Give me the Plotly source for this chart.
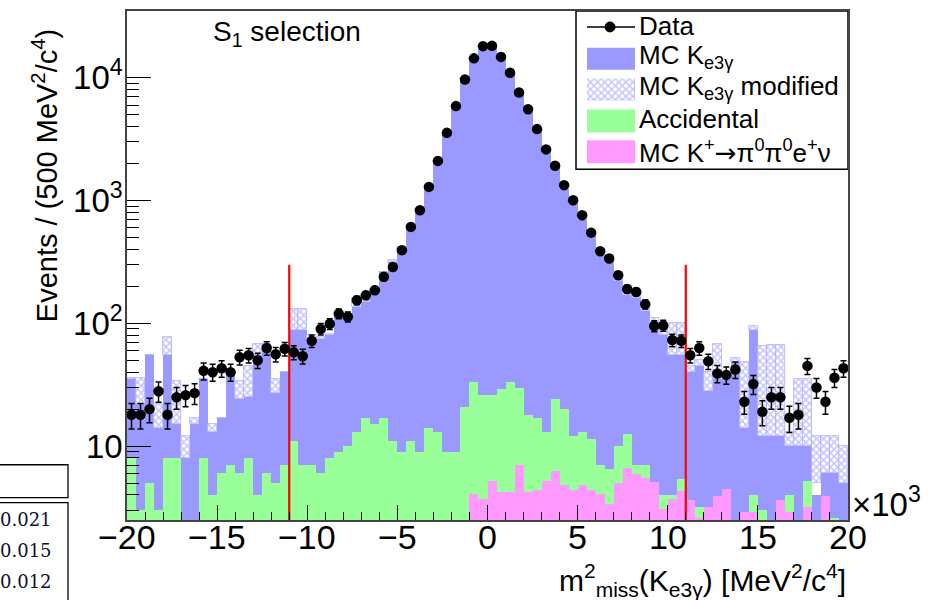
import numpy as np
import plotly.graph_objects as go

# ---------------- data (80 bins of 0.5 x10^3 MeV^2/c^4 from -20 to 20) ----------------
bin_lo, bin_hi, n_bins = -20.0, 20.0, 80

data_counts = [18, 18, 20, 28, 18, 25, 26, 27, 41, 40,
               43, 40, 53, 55, 50, 63, 56, 62, 58, 54,
               72, 90, 99, 120, 113, 154, 169, 186, 239, 288,
               394, 610, 834, 1292, 2104, 3560, 5880, 9690, 14400, 18100,
               18200, 14800, 11000, 7590, 5550, 3820, 2610, 1918, 1335, 1006,
               759, 548, 386, 337, 246, 190, 180, 143, 95, 96,
               73, 72, 55, 63, 49, 39, 38, 42, 23, 32,
               19, 25, 25, 17, 18, 45, 30, 23, 36, 43]

# stacked levels as drawn (cumulative): Ke3g on top of accidental on top of K->pi0pi0enu
ke3g_stack_top = [35, 22, 55, 14, 55, 15, 8, 15, 35, 13,
                  17, 42, 24, 25, 55, 68, 27, 40, 88, 88,
                  75, 75, 80, 113, 113, 136, 150, 175, 262, 316,
                  400, 620, 850, 1300, 2100, 3500, 5800, 9700, 14300, 18000,
                  18000, 14600, 10800, 7400, 5300, 3600, 2450, 1800, 1250, 950,
                  700, 510, 360, 310, 220, 170, 160, 125, 90, 80,
                  55, 55, 40, 45, 28, 35, 38, 48, 14, 88,
                  12, 12, 12, 10, 10, 10, 4, 6, 6, 5]

accidental_stack_top = [8, 3, 5, 3, 8, 8, 1, 1, 8, 4,
                        6, 7, 6, 8, 4, 6, 5, 7, 11, 7,
                        7, 6, 8, 9, 10, 13, 17, 15, 17, 11,
                        9, 11, 9, 14, 13, 9, 9, 21, 33, 26,
                        26, 29, 33, 30, 18, 17, 13, 24, 20, 12,
                        13, 11.5, 7, 6.5, 10, 12.6, 7, 7, 5, 4,
                        4, 5.4, 3.6, 3.2, 3.2, 3.9, 4.5, 1, 2.9, 4,
                        3, 1, 3.6, 4, 1, 5.2, 1, 3.9, 2.6, 1]

k2pi0_stack_top = [0] * 38 + [4.1, 3.7, 5.2, 4.2, 4.2, 7, 4.2, 4.4, 5.2, 6.3,
                              4.8, 4.4, 4.8, 4.4, 4.1, 3.4, 5.0, 6.6, 5.9, 5.5,
                              5.1, 3.1, 3.7, 4.3, 3.65, 2.6, 3.2, 3.9, 4.5, 0,
                              2.9, 2.9, 0, 0, 3.65, 2.9, 0, 3.2, 0, 3.9, 0, 0]

# "MC Ke3g modified" visible hatched band (lower, upper edge)
ke3g_mod_lo = [35, 22, 55, 14, 55, 15, 8, 15, 35, 13,
               17, 42, 24, 25, 55, 68, 27, 40, 88, 88,
               75, 75, 80, 113, 113, 136, 150, 175, 262, 316,
               400, 620, 850, 1300, 2100, 3500, 5800, 9700, 14300, 18000,
               18000, 14600, 10800, 7400, 5300, 3600, 2450, 1800, 1250, 950,
               700, 510, 360, 310, 220, 170, 160, 125, 90, 80,
               55, 55, 40, 45, 28, 35, 38, 48, 14, 88,
               12, 12, 12, 10, 10, 10, 5, 6, 6, 5]
ke3g_mod_hi = [36, 36, 55, 22, 78, 34, 12, 17, 35, 15,
               17, 42, 34, 45, 68, 68, 35, 40, 132, 132,
               80, 78, 82, 113, 113, 160, 165, 190, 262, 330,
               420, 620, 850, 1300, 2100, 3500, 5800, 9700, 14300, 18000,
               18000, 14600, 10800, 7400, 5300, 3600, 2450, 1850, 1350, 1050,
               760, 560, 400, 360, 260, 200, 180, 140, 110, 95,
               100, 100, 45, 50, 40, 68, 38, 52, 48, 95,
               65, 66, 66, 13, 35, 35, 12, 12, 12, 10]

cut_positions = [-11, 11]
cut_top = 300

y_major = [10, 100, 1000, 10000]
y_major_text = ["10", "10<sup>2</sup>", "10<sup>3</sup>", "10<sup>4</sup>"]
x_major = [-20, -15, -10, -5, 0, 5, 10, 15, 20]

table_values = ["0.021", "0.015", "0.012"]

# ---------------- derived ----------------
width = (bin_hi - bin_lo) / n_bins
centers = bin_lo + width * (np.arange(n_bins) + 0.5)
data_arr = np.array(data_counts, dtype=float)
data_err = np.sqrt(data_arr)

def nz(a):
    return [v if v and v > 0 else None for v in a]

BLUE = "#9999ff"
GREEN = "#99ff99"
PINK = "#ff99ff"
FONT = "Liberation Sans, Arial, Helvetica, sans-serif"
HATCH = dict(shape="x", fgcolor="#8c8cff", bgcolor="white", size=5, solidity=0.5)

fig = go.Figure()

fig.add_bar(x=centers, y=ke3g_stack_top, width=width, marker=dict(color=BLUE, line_width=0),
            showlegend=False, hoverinfo="skip")
mod_lo = np.array(ke3g_mod_lo, float)
mod_hi = np.array(ke3g_mod_hi, float)
fig.add_bar(x=centers, y=mod_hi - mod_lo, base=mod_lo, width=width,
            marker=dict(color="white", line=dict(width=0.8, color="#b0b0ff"), pattern=HATCH),
            showlegend=False, hoverinfo="skip")
fig.add_bar(x=centers, y=nz(accidental_stack_top), width=width, marker=dict(color=GREEN, line_width=0),
            showlegend=False, hoverinfo="skip")
fig.add_bar(x=centers, y=nz(k2pi0_stack_top), width=width, marker=dict(color=PINK, line_width=0),
            showlegend=False, hoverinfo="skip")

ymin = 2.5
for cx in cut_positions:
    fig.add_scatter(x=[cx, cx], y=[ymin, cut_top], mode="lines", line=dict(color="#ff0000", width=2.2),
                    showlegend=False, hoverinfo="skip")

fig.add_scatter(x=centers, y=data_arr, mode="markers",
                marker=dict(color="black", size=10.5),
                error_y=dict(type="data", array=data_err, color="black", thickness=1.5, width=3),
                showlegend=False)

# ---------------- axes ----------------
minor_y = [v * d for d in [1, 10, 100, 1000] for v in range(2, 10) if ymin < v * d < 35000]
fig.update_layout(
    width=937, height=600,
    margin=dict(l=127, r=89, t=9, b=80),
    paper_bgcolor="white", plot_bgcolor="white",
    barmode="overlay", bargap=0,
    font=dict(family=FONT, color="black"),
    xaxis=dict(range=[bin_lo, bin_hi], tickvals=x_major, ticks="inside", ticklen=15, tickwidth=1.2,
               tickcolor="black", showgrid=False, zeroline=False, showline=True, mirror=True,
               linecolor="#444", linewidth=1.5, showticklabels=False, layer="above traces",
               minor=dict(dtick=1, ticks="inside", ticklen=8, tickcolor="black", tickwidth=1.2)),
    yaxis=dict(type="log", range=[np.log10(ymin), np.log10(35000)], tickvals=y_major, ticktext=y_major_text,
               ticks="inside", ticklen=24, tickwidth=1.2, tickcolor="black", showgrid=False, zeroline=False,
               showline=True, mirror=True, linecolor="#444", linewidth=1.5, tickfont=dict(size=33),
               layer="above traces", ticklabelstandoff=-4,
               minor=dict(tickvals=minor_y, ticks="inside", ticklen=12, tickcolor="black", tickwidth=1.2)),
)

def px2x(px):
    return (px - 127) / 721.0

def py2y(py):
    return (520.5 - py) / 511.5

ann = []
# x tick labels
for v in x_major:
    ann.append(dict(text=("−" + str(-v)) if v < 0 else str(v), x=v, y=py2y(538), xref="x", yref="paper",
                    showarrow=False, font=dict(size=34), xanchor="center", yanchor="middle"))
ann.append(dict(text="Events / (500 MeV<sup>2</sup>/c<sup>4</sup>)", x=px2x(45), y=py2y(175), xref="paper",
                yref="paper", textangle=-90, showarrow=False, font=dict(size=29), xanchor="center",
                yanchor="middle"))
ann.append(dict(text="m<sup>2</sup><sub>miss</sub>(K<sub>e3γ</sub>) [MeV<sup>2</sup>/c<sup>4</sup>]", x=1.0,
                y=py2y(581), xref="paper", yref="paper", showarrow=False, font=dict(size=30),
                xanchor="right", yanchor="middle"))
ann.append(dict(text="×10<sup>3</sup>", x=px2x(850), y=py2y(502), xref="paper", yref="paper", showarrow=False,
                font=dict(size=33), xanchor="left", yanchor="middle"))
ann.append(dict(text="S<sub>1</sub> selection", x=px2x(211), y=py2y(32), xref="paper", yref="paper",
                showarrow=False, font=dict(size=28), xanchor="left", yanchor="middle"))

# legend (manual)
arrow = "<span style='font-family:DejaVu Sans'>→</span>"
leg_text = ["Data", "MC K<sub>e3γ</sub>", "MC K<sub>e3γ</sub> modified", "Accidental",
            "MC K<sup>+</sup>" + arrow + "π<sup>0</sup>π<sup>0</sup>e<sup>+</sup>ν"]
leg_y = [24, 55, 86, 118, 150]
for t, yy in zip(leg_text, leg_y):
    ann.append(dict(text=t, x=px2x(637), y=py2y(yy), xref="paper", yref="paper", showarrow=False,
                    font=dict(size=26), xanchor="left", yanchor="middle"))

for i, v in enumerate(table_values):
    ann.append(dict(text=v, x=px2x(54), y=py2y(520 + 31 * i), xref="paper", yref="paper", showarrow=False,
                    font=dict(size=18, family="DejaVu Serif, Liberation Serif, serif", color="#111133"),
                    xanchor="right", yanchor="middle"))

shapes = []
shapes.append(dict(type="rect", xref="paper", yref="paper", x0=px2x(576), x1=1.0, y0=py2y(168), y1=1.0,
                   line=dict(color="black", width=1.5), fillcolor="white", layer="below"))
shapes.append(dict(type="line", xref="paper", yref="paper", x0=px2x(587), x1=px2x(635), y0=py2y(25),
                   y1=py2y(25), line=dict(color="black", width=1.5)))
shapes.append(dict(type="circle", xref="paper", yref="paper", x0=px2x(605), x1=px2x(615), y0=py2y(30),
                   y1=py2y(20), line=dict(color="black", width=1), fillcolor="black"))
for (y0, y1, c) in [(46, 68, BLUE), (108, 131, GREEN), (139, 162, PINK)]:
    shapes.append(dict(type="rect", xref="paper", yref="paper", x0=px2x(587), x1=px2x(635), y0=py2y(y1),
                       y1=py2y(y0), line=dict(color=c, width=0), fillcolor=c))
# table fragment boxes
shapes.append(dict(type="rect", xref="paper", yref="paper", x0=px2x(-2), x1=px2x(68), y0=py2y(498),
                   y1=py2y(465), line=dict(color="black", width=1.3)))
shapes.append(dict(type="rect", xref="paper", yref="paper", x0=px2x(-2), x1=px2x(68), y0=py2y(605),
                   y1=py2y(503), line=dict(color="black", width=1.3)))

# hatched legend swatch via inset axes
fig.add_bar(x=[0.5], y=[1], width=1, xaxis="x2", yaxis="y2",
            marker=dict(color="white", line=dict(width=0.8, color="#b0b0ff"), pattern=HATCH),
            showlegend=False, hoverinfo="skip")
fig.update_layout(
    xaxis2=dict(domain=[px2x(587), px2x(635)], range=[0, 1], visible=False, anchor="y2"),
    yaxis2=dict(domain=[py2y(99), py2y(77)], range=[0, 1], visible=False, anchor="x2"),
    annotations=ann, shapes=shapes, showlegend=False,
)

fig.write_html("out.html")
